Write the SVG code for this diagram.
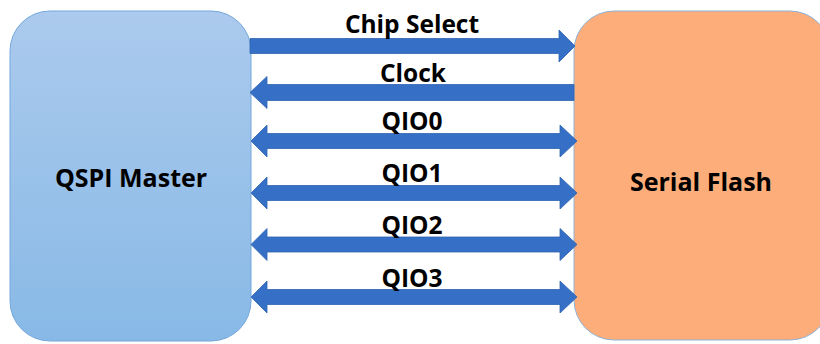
<svg xmlns="http://www.w3.org/2000/svg" width="820" height="344" viewBox="0 0 820 344">
  <defs>
    <linearGradient id="masterFill" x1="0" y1="0" x2="0" y2="1">
      <stop offset="0" stop-color="#abcaed"/>
      <stop offset="1" stop-color="#88b9e6"/>
    </linearGradient>
    <style>
      .box-master { fill: url(#masterFill); stroke: #74a7dc; stroke-width: 1; }
      .box-flash { fill: #fcad79; stroke: #8fb2d8; stroke-width: 1; }
      .node-label { font-family: "Open Sans", "Liberation Sans", sans-serif; font-weight: 700; font-size: 25px; fill: #000; text-anchor: middle; }
      .sig { fill: #3570c6; stroke: #2f64b0; stroke-width: 0.8; }
      .sig-label { font-family: "Open Sans", "Liberation Sans", sans-serif; font-weight: 700; font-size: 24.5px; fill: #000; text-anchor: middle; }
    </style>
  </defs>

  <rect width="820" height="344" fill="#ffffff"/>

  <g id="qspi-master">
    <rect class="box-master" x="10" y="11" width="241" height="330" rx="40" ry="40"/>
    <text class="node-label" x="131" y="187">QSPI Master</text>
  </g>

  <g id="serial-flash">
    <rect class="box-flash" x="574" y="11" width="256" height="329" rx="40" ry="40"/>
    <text class="node-label" x="701" y="191">Serial Flash</text>
  </g>

  <g id="connectors">
    <!-- Chip Select: master to flash -->
    <polygon class="sig" points="250,38.5 559,38.5 559,30 575,46 559,62 559,53.5 250,53.5"/>
    <!-- Clock: flash to master -->
    <polygon class="sig" points="574,84.5 267,84.5 267,76.5 250,92.5 267,108.5 267,100.5 574,100.5"/>
    <!-- QIO0..QIO3: bidirectional -->
    <polygon class="sig" points="251,141 267,125 267,133.5 560,133.5 560,125 577,141 560,157 560,148.5 267,148.5 267,157"/>
    <polygon class="sig" points="251,193 267,177 267,185.5 560,185.5 560,177 577,193 560,209 560,200.5 267,200.5 267,209"/>
    <polygon class="sig" points="251,244.5 267,228.5 267,237 560,237 560,228.5 577,244.5 560,260.5 560,252 267,252 267,260.5"/>
    <polygon class="sig" points="251,297 267,281 267,289.5 560,289.5 560,281 577,297 560,313 560,304.5 267,304.5 267,313"/>
  </g>

  <g id="signal-labels">
    <text class="sig-label" x="412" y="33">Chip Select</text>
    <text class="sig-label" x="413" y="82">Clock</text>
    <text class="sig-label" x="412" y="130">QIO0</text>
    <text class="sig-label" x="412" y="182">QIO1</text>
    <text class="sig-label" x="412" y="234">QIO2</text>
    <text class="sig-label" x="412" y="287">QIO3</text>
  </g>
</svg>
